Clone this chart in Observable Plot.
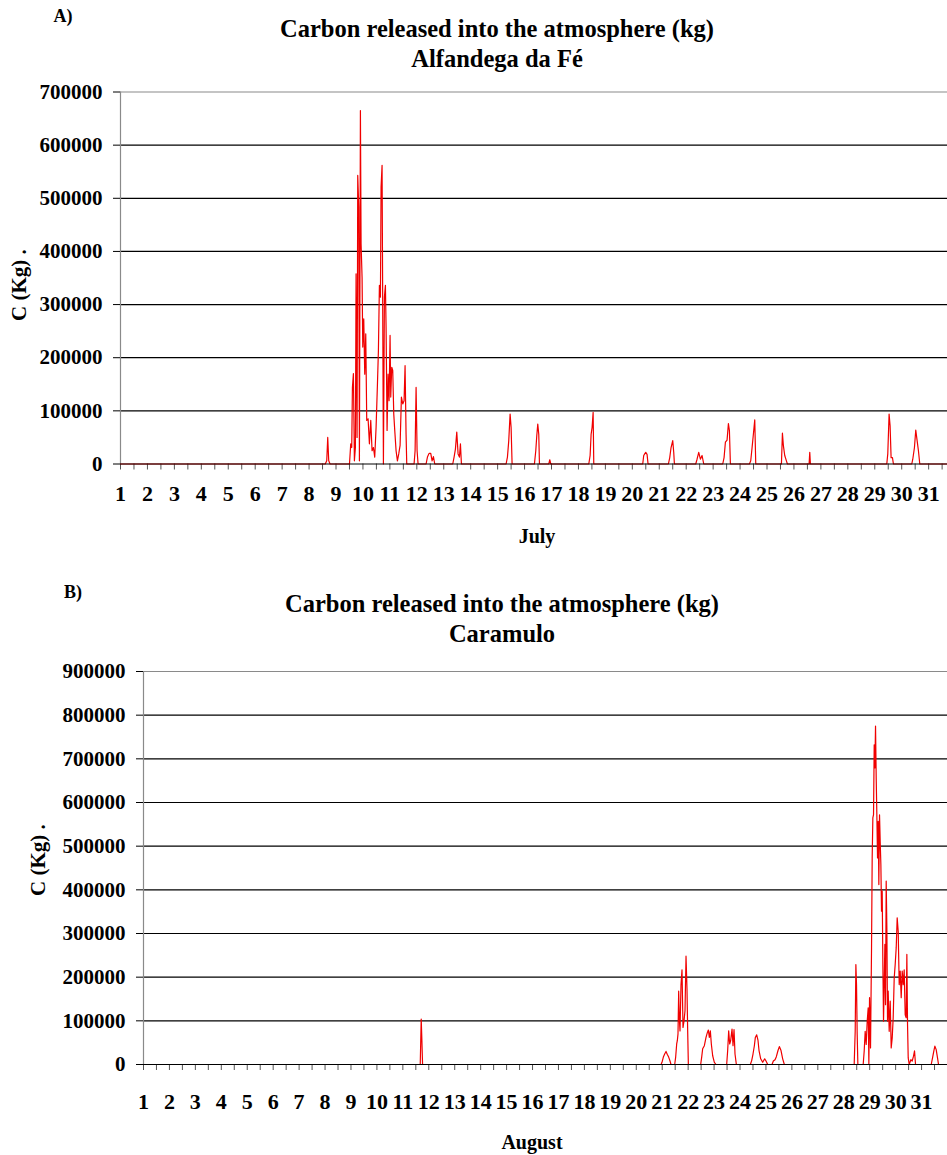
<!DOCTYPE html>
<html><head><meta charset="utf-8">
<script src="https://cdn.jsdelivr.net/npm/d3@7"></script>
<script src="https://cdn.jsdelivr.net/npm/@observablehq/plot@0.6"></script>
<style>
body{margin:0;background:#fff;}
#wrap{position:relative;width:947px;height:1155px;overflow:hidden;font-family:"Liberation Serif","Times New Roman",serif;font-weight:bold;color:#000;background:#fff;}
.t{position:absolute;white-space:nowrap;transform:translate(-50%,-50%);line-height:1;}
.r{position:absolute;white-space:nowrap;transform:translate(-50%,-50%) rotate(-90deg);line-height:1;}
.chart{position:absolute;left:0;width:947px;}
.chart svg{display:block;}
</style></head><body><div id="wrap">
<div class="t" style="left:63px;top:16px;font-size:18px">A)</div>
<div class="t" style="left:497px;top:29px;font-size:24.5px">Carbon released into the atmosphere (kg)</div>
<div class="t" style="left:497px;top:59px;font-size:24.5px">Alfandega da Fé</div>
<div class="r" style="left:19px;top:285px;font-size:21px">C (Kg) .</div>
<div class="t" style="left:537px;top:536px;font-size:20px">July</div>
<div class="t" style="left:73px;top:592px;font-size:18px">B)</div>
<div class="t" style="left:502px;top:604px;font-size:24.5px">Carbon released into the atmosphere (kg)</div>
<div class="t" style="left:502px;top:634px;font-size:24.5px">Caramulo</div>
<div class="r" style="left:38px;top:860px;font-size:21px">C (Kg) .</div>
<div class="t" style="left:532px;top:1142px;font-size:20px">August</div>
<div id="a" class="chart" style="top:80px"></div>
<div id="b" class="chart" style="top:660px"></div>
</div>
<script>
// Tick labels (days of the month)
const dayLabels = [1,2,3,4,5,6,7,8,9,10,11,12,13,14,15,16,17,18,19,20,21,22,23,24,25,26,27,28,29,30,31];
const julyYTicks = [0,100000,200000,300000,400000,500000,600000,700000];
const augYTicks = [0,100000,200000,300000,400000,500000,600000,700000,800000,900000];

// A) Alfandega da Fé, July — position in days (label d = start of day d), carbon (kg)
const julyDay = [1.0,8.60,8.656,8.693,8.730,8.78,9.50,9.547,9.584,9.609,9.646,9.683,9.720,9.745,9.782,9.807,9.844,9.869,9.906,9.931,9.968,9.993,10.030,10.067,10.104,10.141,10.191,10.240,10.290,10.339,10.389,10.438,10.488,10.537,10.574,10.611,10.649,10.673,10.710,10.735,10.760,10.797,10.834,10.859,10.896,10.933,10.970,11.007,11.032,11.069,11.106,11.144,11.181,11.230,11.280,11.329,11.379,11.428,11.478,11.527,11.564,11.601,11.626,11.898,11.936,11.973,12.010,12.047,12.344,12.394,12.455,12.517,12.567,12.616,12.666,13.334,13.383,13.433,13.483,13.532,13.582,13.619,13.656,15.314,15.364,15.413,15.463,15.500,15.537,16.366,16.416,16.453,16.490,16.527,16.552,16.899,16.936,16.973,18.384,18.433,18.470,18.507,18.545,18.569,20.386,20.423,20.460,20.498,20.547,20.584,21.339,21.389,21.438,21.500,21.537,21.562,22.354,22.403,22.465,22.527,22.589,22.651,23.356,23.406,23.455,23.517,23.567,23.604,23.641,24.347,24.396,24.446,24.507,24.545,24.582,25.535,25.572,25.609,25.658,25.720,25.757,26.562,26.587,26.611,29.446,29.483,29.532,29.569,29.606,29.656,29.693,30.374,30.411,30.473,30.522,30.572,30.621,30.671,31.7];
const julyC = [0,0,6000,50000,6000,0,0,38000,31000,144000,170000,6000,31000,358000,50000,543000,483000,6000,665000,414000,351000,220000,273000,169000,245000,82000,85000,38000,82000,25000,31000,13000,69000,148000,213000,336000,314000,521000,562000,282000,0,314000,336000,257000,63000,169000,119000,242000,126000,182000,176000,94000,63000,25000,6000,19000,35000,126000,113000,119000,185000,56000,0,0,25000,144000,25000,0,0,13000,20000,20000,6000,14000,0,0,13000,28000,60000,19000,13000,38000,0,0,13000,44000,94000,69000,0,0,25000,53000,75000,56000,0,0,8000,0,0,16000,56000,69000,97000,0,0,16000,19000,22000,18000,0,0,12000,31000,44000,22000,0,0,9000,22000,9000,16000,0,0,12000,41000,45000,76000,63000,0,0,6000,31000,63000,83000,0,0,58000,34000,16000,6000,0,0,22000,0,0,19000,94000,72000,12000,12000,0,0,9000,31000,64000,44000,25000,0,0];

// B) Caramulo, August — position in days, carbon (kg)
const augDay = [1.0,11.670,11.708,11.734,11.760,20.954,20.992,21.044,21.095,21.147,21.198,21.249,21.301,21.339,21.481,21.519,21.558,21.584,21.609,21.635,21.661,21.686,21.725,21.763,21.802,21.841,21.879,21.918,21.956,21.982,22.008,22.483,22.522,22.560,22.625,22.689,22.740,22.779,22.817,22.856,22.894,22.946,23.010,23.075,23.486,23.524,23.563,23.602,23.640,23.692,23.730,23.769,23.807,23.859,24.398,24.450,24.501,24.553,24.591,24.643,24.694,24.733,24.797,24.874,24.951,25.003,25.067,25.234,25.285,25.350,25.401,25.465,25.517,25.581,25.645,25.710,28.402,28.441,28.467,28.492,28.518,28.544,28.749,28.788,28.826,28.865,28.904,28.942,28.968,28.994,29.032,29.071,29.096,29.122,29.148,29.174,29.199,29.225,29.251,29.276,29.302,29.328,29.353,29.379,29.405,29.431,29.456,29.482,29.508,29.533,29.559,29.585,29.611,29.636,29.662,29.688,29.713,29.752,29.791,29.829,29.868,29.906,29.945,29.983,30.022,30.060,30.099,30.138,30.176,30.215,30.253,30.292,30.330,30.369,30.407,30.433,30.459,30.485,30.523,30.587,30.639,30.690,30.729,30.767,31.372,31.423,31.474,31.513,31.564,31.615,31.654,32.0];
const augC = [0,0,104000,55000,0,0,5000,17000,24000,30000,23000,17000,8000,0,0,17000,47000,55000,70000,168000,104000,77000,183000,217000,85000,100000,123000,248000,172000,77000,0,0,17000,36000,43000,62000,73000,79000,62000,77000,47000,20000,5000,0,0,32000,77000,47000,55000,81000,43000,80000,24000,0,0,9000,24000,43000,62000,68000,55000,32000,13000,5000,13000,8000,0,0,8000,11000,18000,32000,41000,32000,13000,0,0,76000,229000,183000,69000,0,0,31000,76000,46000,99000,130000,0,153000,38000,267000,473000,565000,572000,732000,679000,775000,656000,572000,473000,557000,412000,572000,511000,458000,351000,397000,229000,99000,183000,275000,137000,420000,313000,99000,168000,76000,145000,38000,61000,107000,198000,229000,267000,336000,305000,183000,214000,153000,214000,183000,217000,114000,107000,252000,92000,15000,0,11000,8000,19000,31000,0,0,15000,31000,42000,34000,15000,0,0];

function panel(days, vals, yTicks, o) {
  const data = days.map((d, i) => ({day: d, c: vals[i]}));
  const yMax = yTicks[yTicks.length - 1];
  const halfTicks = d3.range(1, o.xMax + 0.01, 0.5);
  return Plot.plot({
    width: 947, height: o.height,
    marginTop: o.mTop, marginBottom: o.mBottom, marginLeft: o.mLeft, marginRight: 0,
    x: {domain: [1, o.xMax], axis: null, label: null},
    y: {domain: [0, yMax], axis: null, label: null},
    style: {fontFamily: "'Liberation Serif', serif", fontSize: "21px", fontWeight: "bold", color: "#000", background: "transparent", overflow: "visible"},
    marks: [
      Plot.ruleY(yTicks.filter(v => v > 0 && v < yMax), {stroke: "#000", strokeWidth: 1.2}),
      Plot.ruleY([yMax], {stroke: "#8a8a8a", strokeWidth: 1.2}),
      Plot.ruleX([1], {stroke: "#8a8a8a", strokeWidth: 1.2}),
      Plot.axisY({ticks: yTicks, tickFormat: d => String(d), tickSize: 7, tickPadding: 11, label: null}),
      Plot.axisX({ticks: halfTicks, tickFormat: () => "", tickSize: 6, label: null, stroke: "#555"}),
      Plot.text(dayLabels, {x: d => d, y: 0, dy: o.labelDy, text: d => String(d), fontSize: 22, fontWeight: "bold", lineAnchor: "middle", textAnchor: "middle"}),
      Plot.line(data, {x: "day", y: "c", stroke: "#f00000", strokeWidth: 1.2}),
      Plot.ruleY([0], {stroke: "#000", strokeWidth: 1.2})
    ]
  });
}

document.getElementById("a").append(panel(julyDay, julyC, julyYTicks, {height: 470, mTop: 11.5, mBottom: 86.5, mLeft: 120, xMax: 31.7, labelDy: 30}));
document.getElementById("b").append(panel(augDay, augC, augYTicks, {height: 495, mTop: 11, mBottom: 91, mLeft: 143, xMax: 32.0, labelDy: 37}));
</script>
</body></html>
